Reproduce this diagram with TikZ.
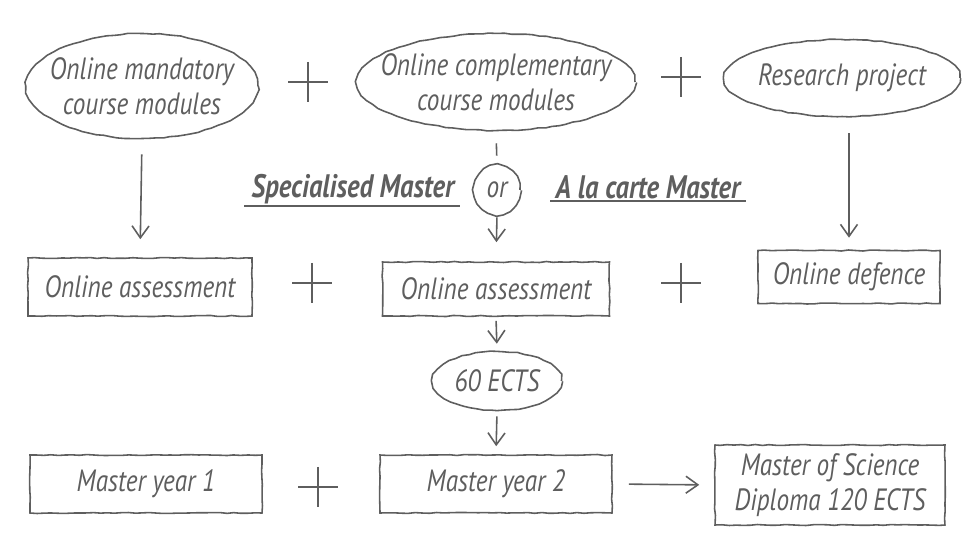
\documentclass[tikz,border=0pt]{standalone}
\usepackage{fontspec}
\newfontfamily\handfont{PT Sans}[FakeStretch=0.82]
\usetikzlibrary{arrows.meta, decorations.pathmorphing, positioning, shapes.geometric}

\definecolor{pencil}{HTML}{5E5E5E}

\tikzset{
  sketch/.style={draw=pencil, line width=0.9pt, decorate,
    decoration={random steps, segment length=4pt, amplitude=0.3pt}},
  oval/.style={ellipse, sketch, inner xsep=-14pt, inner ysep=-4pt},
  panel/.style={rectangle, sketch, inner sep=0pt},
  hand/.style={font=\handfont\fontsize{17.5}{20}\selectfont\itshape, text=pencil, align=center},
  title/.style={hand, font=\handfont\fontsize{18.5}{21}\selectfont\bfseries\itshape, inner sep=1pt},
  link/.style={draw=pencil, line width=0.9pt, -{Straight Barb[length=2.4mm, width=3.4mm]}},
  plus/.pic={\draw[pencil, line width=0.9pt] (-20,0) -- (20,0) (0,-20) -- (0,20);}
}

\begin{document}
\begin{tikzpicture}[x=0.02cm, y=-0.02cm]
  \useasboundingbox (0,0) rectangle (978,560);

  % first row: modules and project
  \node[oval, hand, minimum width=4.64cm, minimum height=2.1cm] (mandatory) at (142,86)
    {Online mandatory\\course modules};
  \node[oval, hand, minimum width=5.56cm, minimum height=1.94cm] (complement) at (496,82)
    {Online complementary\\course modules};
  \node[oval, hand, minimum width=4.72cm, minimum height=1.54cm] (project) at (842,78)
    {Research project};
  \pic at (308,82) {plus};
  \pic at (681,77) {plus};

  % choice of master
  \node[oval, hand, inner sep=0pt, minimum width=0.92cm, minimum height=0.98cm] (or) at (497,190) {or};
  \node[title] (special) at (353,189) {Specialised Master};
  \node[title] (carte) at (648,187) {A la carte Master};
  \draw[pencil, line width=0.9pt] ([xshift=-3pt]special.south west) -- ([xshift=2pt]special.south east);
  \draw[pencil, line width=0.9pt] ([xshift=-2pt]carte.south west) -- ([xshift=2pt]carte.south east);

  % second row: assessments
  \node[panel, hand, minimum width=4.48cm, minimum height=1.16cm] (assess1) at (140,287) {Online assessment};
  \node[panel, hand, minimum width=4.54cm, minimum height=1.08cm] (assess2) at (496,289) {Online assessment};
  \node[panel, hand, minimum width=3.64cm, minimum height=1.06cm] (defence) at (849,277) {Online defence};
  \pic at (312,283) {plus};
  \pic at (681,283) {plus};

  \node[oval, hand, minimum width=2.58cm, minimum height=1.18cm] (ects) at (497,381) {60 ECTS};

  % third row: years and diploma
  \node[panel, hand, minimum width=4.64cm, minimum height=1.16cm] (year1) at (146,484) {Master year 1};
  \node[panel, hand, minimum width=4.64cm, minimum height=1.16cm] (year2) at (496,484) {Master year 2};
  \node[panel, hand, minimum width=4.6cm, minimum height=1.6cm] (diploma) at (830,485)
    {Master of Science\\Diploma 120 ECTS};
  \pic at (318,487) {plus};

  % connectors
  \draw[link, shorten <=0.3cm, shorten >=0.36cm] (mandatory.south) -- (assess1.north);
  \draw[link, shorten <=0.32cm, shorten >=0.24cm] (project.south -| defence.north) -- (defence.north);
  \draw[pencil, line width=0.9pt, shorten <=0.24cm, shorten >=0.18cm] (complement.south) -- (or.north);
  \draw[link, shorten <=0.04cm, shorten >=0.38cm] (or.south) -- (assess2.north);
  \draw[link, shorten <=0.08cm, shorten >=0.14cm] (assess2.south) -- (ects.north);
  \draw[link, shorten <=0.1cm, shorten >=0.16cm] (ects.south) -- (year2.north);
  \draw[link, shorten <=0.32cm, shorten >=0.3cm] (year2.east) -- (diploma.west);
\end{tikzpicture}
\end{document}
